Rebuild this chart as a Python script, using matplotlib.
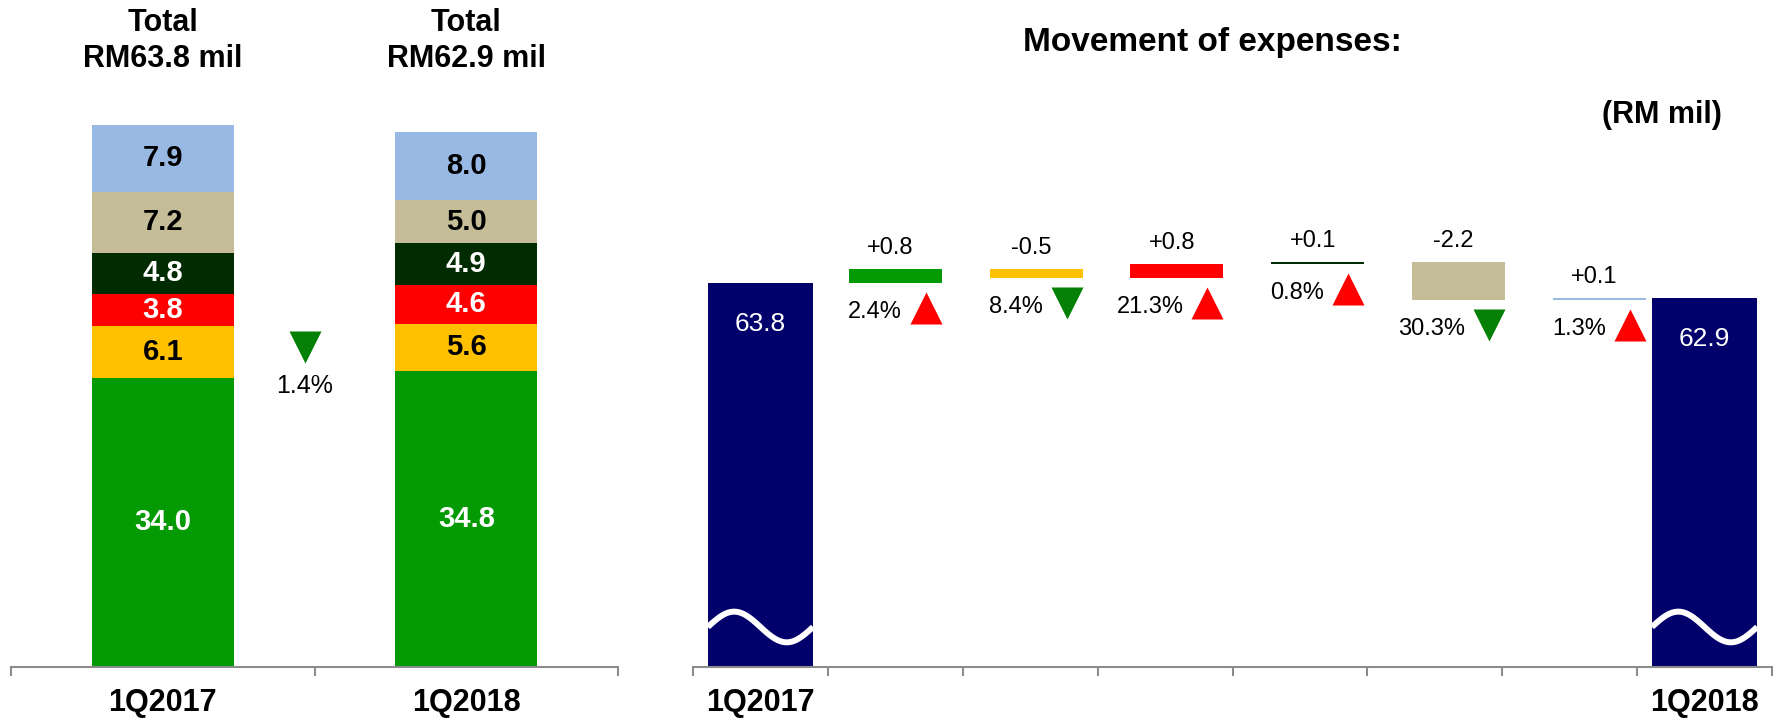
import numpy as np
import matplotlib
matplotlib.use('Agg')
import matplotlib.pyplot as plt
from matplotlib.transforms import offset_copy

plt.rcParams['font.family'] = ['Liberation Sans', 'DejaVu Sans']

# expense breakdown per quarter, bottom to top of the stack
periods = ['1Q2017', '1Q2018']
totals = [63.8, 62.9]
seg_2017 = [34.0, 6.1, 3.8, 4.8, 7.2, 7.9]
seg_2018 = [34.8, 5.6, 4.6, 4.9, 5.0, 8.0]
total_change = '1.4%'

# movement of each component from 1Q2017 to 1Q2018
deltas = [0.8, -0.5, 0.8, 0.1, -2.2, 0.1]
delta_pct = ['2.4%', '8.4%', '21.3%', '0.8%', '30.3%', '1.3%']

seg_colors = ['#049a04', '#ffc000', '#ff0000', '#012b01', '#c4bd97', '#98b9e3']
seg_text = ['white', 'black', 'white', 'white', 'black', 'black']
navy = '#02006a'
up_red = '#ff0000'
down_green = '#048004'
axis_grey = '#8c8c8c'

W, H = 1777, 724
fig = plt.figure(figsize=(W / 100, H / 100), dpi=100)


def style_axis(ax, n):
    for s in ['top', 'left', 'right']:
        ax.spines[s].set_visible(False)
    ax.spines['bottom'].set_color(axis_grey)
    ax.spines['bottom'].set_linewidth(1.5)
    ax.set_yticks([])
    ax.set_xlim(-0.5, n - 0.5)
    ax.set_xticks(np.arange(-0.5, n, 1))
    ax.set_xticklabels([])
    ax.tick_params(axis='x', which='major', length=6.5, width=1.5,
                   color=axis_grey, direction='out')
    ax.tick_params(axis='x', which='minor', length=0, pad=15)


# ---- left: stacked bars ----
ax1 = fig.add_axes([11 / W, (H - 667) / H, 607 / W, 667 / H])
style_axis(ax1, 2)
ax1.set_ylim(0, 667 / 8.5)

for col, segs in enumerate([seg_2017, seg_2018]):
    bottom = 0
    for v, c, tc in zip(segs, seg_colors, seg_text):
        ax1.bar(col, v, 0.468, bottom=bottom, color=c, edgecolor='none')
        ax1.text(col, bottom + v / 2, f'{v:.1f}', ha='center', va='center',
                 color=tc, fontsize=21, fontweight='bold')
        bottom += v
    ax1.text(col, 0.938, f'Total\nRM{totals[col]:.1f} mil',
             transform=ax1.get_xaxis_transform(), ha='center', va='center',
             fontsize=22, fontweight='bold', linespacing=1.25)

ax1.set_xticks([0, 1], minor=True)
ax1.set_xticklabels(periods, minor=True, fontsize=22, fontweight='bold')

tri = offset_copy(ax1.get_xaxis_transform(), fig=fig, x=-10, y=0, units='dots')
ax1.plot(0.5, 0.48, marker='v', ms=23, color=down_green, mec='none',
         transform=tri, clip_on=False)
ax1.text(0.5, 0.421, total_change, transform=tri, ha='center', va='center',
         fontsize=18)

# ---- right: waterfall ----
ax2 = fig.add_axes([693 / W, (H - 667) / H, 1079 / W, 667 / H])
style_axis(ax2, 8)
y_floor = 41.2
ax2.set_ylim(y_floor, y_floor + 667 / 17)

end_w = 0.78
step_w = 0.69
ends = [0, 7]
steps = np.linspace(1, 6.22, len(deltas))

for pos, val in zip(ends, totals):
    ax2.bar(pos, val, end_w, color=navy, edgecolor='none')
    ax2.annotate(f'{val:.1f}', xy=(pos, val), xytext=(0, -41),
                 textcoords='offset pixels', ha='center', va='center',
                 color='white', fontsize=19)
    # axis break mark
    t = np.linspace(0, 1, 60)
    ax2.plot(pos - end_w / 2 + t * end_w, 0.06 + 0.023 * np.sin(2 * np.pi * t),
             color='white', lw=4.3, solid_capstyle='butt',
             transform=ax2.get_xaxis_transform())

level = totals[0]
for pos, d, pct, c in zip(steps, deltas, delta_pct, seg_colors):
    lo, hi = min(level, level + d), max(level, level + d)
    ax2.bar(pos, d, step_w, bottom=level, color=c, edgecolor='none')
    ax2.annotate(f'{d:+.1f}', xy=(pos, hi), xytext=(-5, 21),
                 textcoords='offset pixels', ha='center', va='center',
                 fontsize=17)
    right = pos + step_w / 2
    mk = offset_copy(ax2.transData, fig=fig, x=-16, y=-25, units='dots')
    ax2.plot(right, lo, marker='^' if d > 0 else 'v', ms=23,
             color=up_red if d > 0 else down_green, mec='none', transform=mk)
    ax2.annotate(pct, xy=(right, lo), xytext=(-40, -29),
                 textcoords='offset pixels', ha='right', va='center',
                 fontsize=17)
    level += d

ax2.set_xticks(ends, minor=True)
ax2.set_xticklabels(periods, minor=True, fontsize=22, fontweight='bold')

fig.text(1212 / W, 1 - 42 / H, 'Movement of expenses:', ha='center',
         va='center', fontsize=24, fontweight='bold')
fig.text(1722 / W, 1 - 115 / H, '(RM mil)', ha='right', va='center',
         fontsize=22, fontweight='bold')

fig.savefig('out.png', dpi=100)
